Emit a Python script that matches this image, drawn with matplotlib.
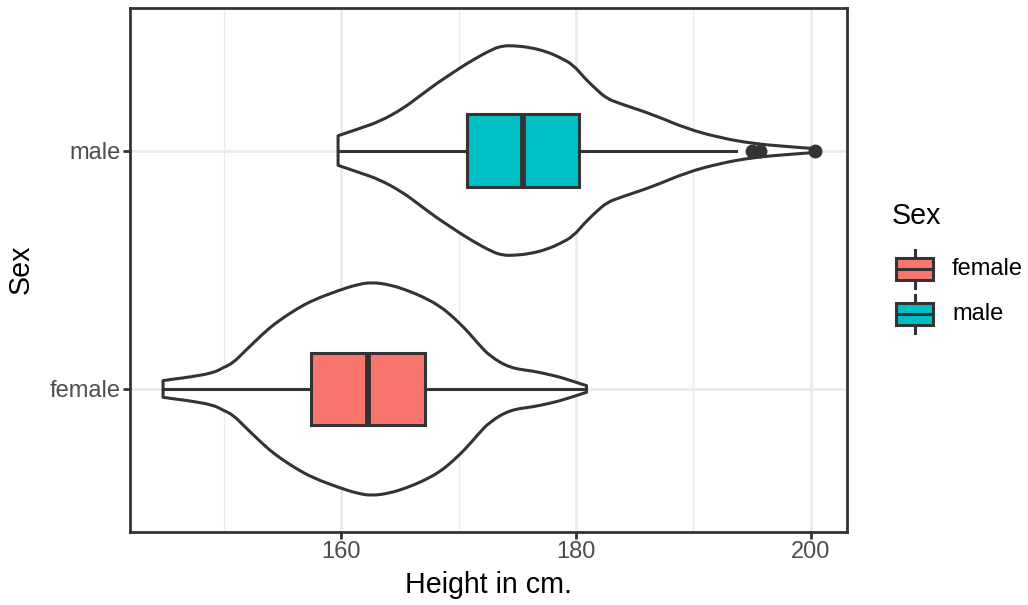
import matplotlib
matplotlib.use("Agg")
import matplotlib.pyplot as plt
from matplotlib.patches import Rectangle, PathPatch
from matplotlib.path import Path

plt.rcParams["font.family"] = ["Liberation Sans", "DejaVu Sans"]

# categories and colours
sexes = ["female", "male"]
fills = ["#F8766D", "#00BFC4"]
edge = "#333333"

# violin outline: height (cm) and half width (in category units)
female_cm = [144.79, 145.93, 147.07, 149.05, 149.91, 150.76, 151.75, 152.75, 153.74,
             154.74, 156.16, 157.58, 159.86, 161.28, 162.56, 164.12, 165.54, 166.96,
             168.38, 169.51, 170.66, 171.65, 172.64, 174.35, 176.33, 177.48, 178.61,
             179.75, 180.89]
female_hw = [0.035, 0.043, 0.050, 0.067, 0.089, 0.109, 0.158, 0.205, 0.251,
             0.289, 0.335, 0.373, 0.415, 0.437, 0.448, 0.437, 0.415, 0.386,
             0.348, 0.302, 0.247, 0.190, 0.138, 0.088, 0.075, 0.063, 0.050,
             0.032, 0.014]
male_cm = [159.71, 161.56, 163.27, 165.25, 166.68, 168.10, 169.51, 170.94, 172.93,
           173.78, 174.63, 176.05, 177.48, 178.61, 179.75, 180.74, 181.74, 182.59,
           183.73, 186.56, 189.41, 192.25, 195.09, 197.94, 200.35]
male_hw = [0.062, 0.093, 0.122, 0.176, 0.229, 0.281, 0.327, 0.373, 0.427,
           0.439, 0.440, 0.433, 0.415, 0.391, 0.360, 0.303, 0.256, 0.219,
           0.197, 0.151, 0.092, 0.054, 0.029, 0.017, 0.008]

# boxplot summaries
q1 = [157.44, 170.66]
median = [162.22, 175.48]
q3 = [167.10, 180.26]
whis_lo = [144.79, 159.71]
whis_hi = [180.89, 193.67]
outliers = [[], [195.0, 195.72, 200.35]]


def smooth_edge(pts):
    # quadratic bezier pieces through the midpoints of the outline points
    verts = [pts[0]]
    codes = [Path.LINETO]
    mid = lambda a, b: ((a[0] + b[0]) / 2, (a[1] + b[1]) / 2)
    verts.append(mid(pts[0], pts[1]))
    codes.append(Path.LINETO)
    for i in range(1, len(pts) - 1):
        verts += [pts[i], mid(pts[i], pts[i + 1])]
        codes += [Path.CURVE3, Path.CURVE3]
    verts.append(pts[-1])
    codes.append(Path.LINETO)
    return verts, codes


def violin_path(xs, hw, pos):
    top = [(x, pos + w) for x, w in zip(xs, hw)]
    bot = [(x, pos - w) for x, w in zip(xs, hw)][::-1]
    v1, c1 = smooth_edge(top)
    v2, c2 = smooth_edge(bot)
    c1[0] = Path.MOVETO
    verts = v1 + v2 + [top[0]]
    codes = c1 + c2 + [Path.CLOSEPOLY]
    return Path(verts, codes)


W, H = 1028, 605
fig = plt.figure(figsize=(W / 100, H / 100), dpi=100)
ax = fig.add_axes([130 / W, 1 - 532 / H, 717 / W, 524.5 / H])

lw = 2.2
for pos, xs, hw in [(1, female_cm, female_hw), (2, male_cm, male_hw)]:
    ax.add_patch(PathPatch(violin_path(xs, hw, pos), facecolor="white",
                           edgecolor=edge, linewidth=lw, zorder=2,
                           joinstyle="round"))

stats = []
for i, s in enumerate(sexes):
    stats.append(dict(label=s, q1=q1[i], med=median[i], q3=q3[i],
                      whislo=whis_lo[i], whishi=whis_hi[i], fliers=outliers[i]))

bp = ax.bxp(stats, positions=[1, 2], widths=0.303, orientation="horizontal",
            patch_artist=True, showcaps=False,
            boxprops=dict(edgecolor=edge, linewidth=lw),
            whiskerprops=dict(color=edge, linewidth=lw),
            medianprops=dict(color=edge, linewidth=4.2, solid_capstyle="butt"),
            flierprops=dict(marker="o", markersize=9, markerfacecolor=edge,
                            markeredgecolor=edge))
for patch, c in zip(bp["boxes"], fills):
    patch.set_facecolor(c)
    patch.set_zorder(3)
for k in ["whiskers", "medians", "fliers"]:
    for a in bp[k]:
        a.set_zorder(4)

ax.set_xlim(141.97, 203.10)
ax.set_ylim(0.4, 2.6)
ax.set_xticks([160, 180, 200])
ax.set_xticks([150, 170, 190], minor=True)
ax.set_yticks([1, 2])
ax.set_yticklabels(sexes)
ax.grid(True, which="major", color="#EBEBEB", linewidth=2.0, zorder=0)
ax.grid(True, which="minor", axis="x", color="#EBEBEB", linewidth=1.0, zorder=0)
ax.set_axisbelow(True)
ax.tick_params(axis="both", which="major", length=5, width=2.0, color=edge,
               labelcolor="#4D4D4D", labelsize=17, pad=1.5)
ax.tick_params(axis="both", which="minor", length=0)
for sp in ax.spines.values():
    sp.set_color(edge)
    sp.set_linewidth(2.0)

ax.set_xlabel("Height in cm.", fontsize=20.6, labelpad=6)
ax.set_ylabel("Sex", fontsize=20.6, labelpad=11)

# legend, drawn in figure pixels
lax = fig.add_axes([0, 0, 1, 1], zorder=5)
lax.set_xlim(0, W)
lax.set_ylim(H, 0)
lax.axis("off")
lax.text(892, 216, "Sex", fontsize=20.6, va="center", ha="left")
for i, (s, c) in enumerate(zip(sexes, fills)):
    cy = 269 + 45 * i
    lax.plot([914.7, 914.7], [cy - 19, cy + 19], color=edge, linewidth=lw, zorder=1)
    lax.add_patch(Rectangle((896, cy - 11), 37, 22, facecolor=c, edgecolor=edge,
                            linewidth=lw, zorder=2))
    lax.plot([896, 933], [cy, cy], color=edge, linewidth=lw, zorder=3)
    lax.text(952, cy, s, fontsize=17, va="center", ha="left")

fig.savefig("out.png", dpi=100)
